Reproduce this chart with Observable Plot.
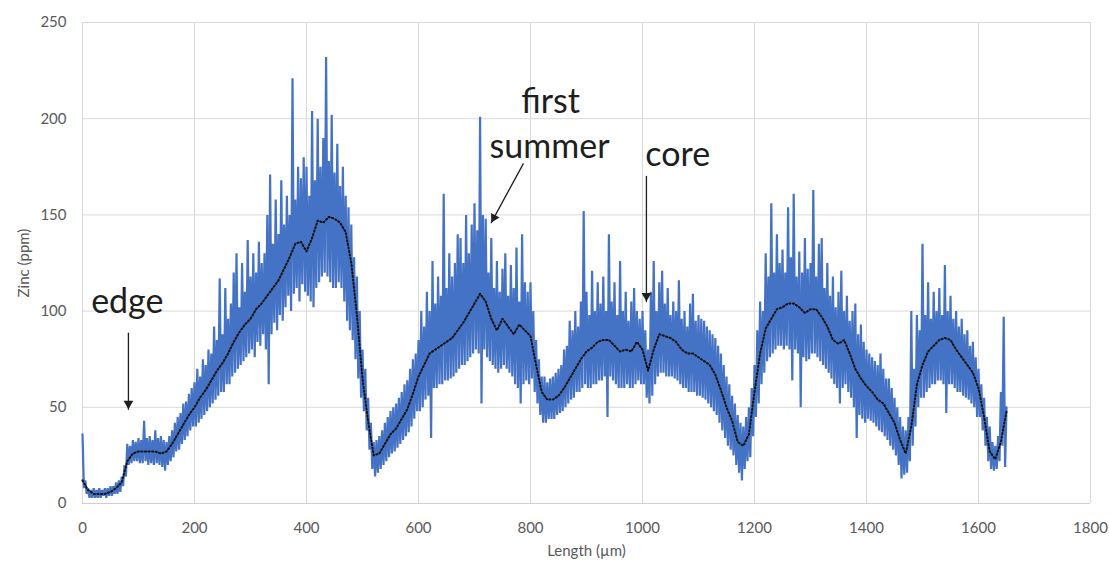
<!DOCTYPE html>
<html>
<head>
<meta charset="utf-8">
<script src="https://cdn.jsdelivr.net/npm/d3@7"></script>
<script src="https://cdn.jsdelivr.net/npm/@observablehq/plot@0.6"></script>
<style>
  html, body { margin: 0; padding: 0; background: #ffffff; }
  #chart { width: 1109px; height: 571px; }
</style>
</head>
<body>
<div id="chart"></div>
<script>
// ---- Data ----
// Raw zinc profile (ppm). The noisy signal alternates between upper readings
// (at 0, 5, 10 ... 1650 µm) and lower readings (at 2.5, 7.5 ... 1647.5 µm).
const zincStep = 5;
const zincUpper = [
  36, 12, 8, 7, 8, 7, 8, 7, 8, 8, 9, 9, 11, 12, 14, 20, 31, 30, 33, 32,
  34, 33, 43, 34, 35, 33, 38, 34, 35, 33, 32, 35, 38, 42, 45, 47, 52, 53, 57, 60,
  63, 70, 66, 75, 72, 80, 78, 92, 85, 117, 88, 112, 96, 104, 120, 130, 102, 125, 110, 137,
  118, 130, 120, 136, 125, 130, 150, 171, 135, 158, 140, 168, 145, 160, 150, 221, 158, 175, 169, 180,
  175, 160, 204, 168, 200, 175, 190, 232, 178, 202, 172, 187, 165, 175, 160, 154, 145, 128, 118, 100,
  80, 70, 55, 42, 32, 33, 35, 38, 42, 45, 48, 50, 52, 55, 58, 62, 64, 70, 75, 78,
  85, 100, 92, 110, 100, 126, 104, 118, 108, 161, 112, 130, 118, 125, 140, 138, 125, 150, 130, 145,
  156, 142, 201, 150, 148, 120, 138, 112, 126, 110, 122, 130, 108, 124, 112, 133, 105, 140, 115, 110,
  115, 100, 85, 75, 66, 66, 63, 65, 66, 68, 70, 72, 80, 82, 95, 90, 100, 92, 105, 152,
  110, 98, 121, 100, 115, 104, 118, 100, 140, 105, 115, 98, 126, 100, 110, 95, 105, 112, 100, 96,
  100, 90, 80, 110, 126, 100, 115, 121, 104, 112, 98, 105, 100, 116, 96, 100, 92, 104, 109, 95,
  98, 96, 95, 92, 90, 88, 86, 82, 78, 72, 66, 62, 56, 52, 46, 42, 40, 45, 50, 60,
  72, 90, 105, 100, 130, 118, 156, 120, 140, 125, 132, 120, 154, 128, 161, 118, 131, 120, 138, 122,
  125, 163, 118, 135, 138, 112, 125, 108, 118, 102, 110, 121, 100, 108, 95, 100, 104, 88, 93, 84,
  80, 78, 76, 74, 72, 78, 70, 65, 65, 60, 55, 50, 45, 40, 38, 45, 100, 70, 98, 90,
  135, 98, 115, 96, 110, 100, 112, 98, 124, 100, 108, 96, 100, 92, 96, 88, 90, 82, 84, 76,
  70, 62, 55, 45, 40, 32, 30, 35, 58, 97, 50
];
const zincLower = [
  8, 5, 3, 3, 3, 3, 3, 4, 3, 4, 4, 5, 5, 6, 9, 14, 20, 21, 22, 22,
  21, 21, 22, 20, 21, 20, 21, 20, 19, 17, 20, 22, 24, 27, 28, 31, 33, 35, 38, 40,
  40, 42, 44, 46, 48, 50, 52, 54, 56, 58, 58, 62, 62, 66, 68, 70, 72, 74, 76, 78,
  80, 76, 84, 82, 88, 80, 62, 88, 94, 90, 98, 95, 102, 108, 100, 109, 112, 105, 114, 110,
  108, 105, 102, 112, 115, 118, 120, 118, 115, 112, 112, 115, 112, 105, 95, 90, 85, 75, 65, 55,
  48, 38, 28, 18, 14, 16, 18, 20, 22, 24, 26, 27, 29, 31, 33, 35, 37, 40, 44, 48,
  48, 50, 54, 56, 34, 60, 60, 62, 62, 64, 64, 65, 66, 68, 70, 72, 72, 74, 76, 78,
  80, 78, 52, 80, 76, 74, 72, 70, 68, 70, 72, 70, 68, 66, 62, 60, 52, 62, 64, 62,
  65, 58, 52, 46, 42, 42, 44, 44, 44, 46, 47, 48, 50, 52, 54, 55, 58, 58, 60, 62,
  60, 60, 62, 62, 64, 64, 66, 45, 66, 64, 62, 60, 60, 60, 62, 60, 60, 62, 64, 62,
  62, 55, 52, 56, 62, 66, 68, 68, 66, 66, 66, 65, 64, 62, 60, 60, 58, 58, 58, 56,
  56, 55, 54, 52, 50, 48, 46, 42, 38, 34, 30, 28, 25, 20, 16, 12, 18, 22, 24, 35,
  45, 52, 62, 68, 74, 76, 78, 80, 82, 82, 80, 82, 80, 64, 80, 78, 50, 76, 74, 75,
  78, 78, 76, 74, 72, 70, 68, 65, 62, 60, 52, 60, 62, 58, 55, 50, 34, 46, 44, 42,
  44, 43, 42, 40, 38, 37, 35, 33, 30, 28, 25, 20, 13, 15, 16, 22, 30, 40, 50, 55,
  55, 58, 60, 62, 62, 64, 64, 62, 47, 62, 62, 60, 58, 58, 56, 55, 54, 52, 50, 45,
  45, 38, 30, 22, 18, 17, 18, 22, 30, 19
];

// Moving-average trend line (ppm), one value every 10 µm from 0 to 1650 µm
const avgStep = 10;
const movingAvg = [
  12, 7, 5, 5, 5, 6, 8, 11, 22, 26,
  27, 27, 27, 27, 26, 27, 31, 36, 41, 46,
  50, 55, 59, 64, 69, 73, 78, 84, 89, 93,
  96, 101, 104, 108, 112, 116, 122, 128, 135, 136,
  131, 138, 147, 146, 149, 148, 146, 141, 125, 98,
  65, 43, 25, 26, 31, 36, 39, 44, 49, 57,
  66, 72, 78, 80, 82, 84, 86, 90, 94, 99,
  104, 109, 105, 96, 90, 96, 92, 88, 93, 90,
  87, 72, 58, 54, 54, 56, 60, 65, 70, 75,
  79, 81, 84, 85, 85, 82, 79, 80, 79, 84,
  80, 69, 80, 88, 87, 86, 84, 80, 78, 78,
  76, 74, 72, 67, 59, 50, 43, 32, 30, 36,
  58, 78, 91, 96, 101, 102, 104, 104, 102, 99,
  101, 101, 97, 92, 85, 83, 85, 78, 70, 65,
  61, 58, 54, 52, 47, 42, 33, 26, 40, 62,
  72, 79, 82, 85, 86, 85, 80, 76, 72, 68,
  60, 45, 27, 23, 32, 48
];

const xTicks = [0, 200, 400, 600, 800, 1000, 1200, 1400, 1600, 1800];
const yTicks = [0, 50, 100, 150, 200, 250];

// Annotation labels (data coordinates: µm, ppm)
const noteText = ["edge", "first", "summer", "core"];
const noteX = [80, 836, 834, 1063];
const noteY = [99, 203, 179.5, 175.5];

// Annotation arrows: start (x1,y1) -> tip (x2,y2), data coordinates
const arrowX1 = [82, 787, 1007];
const arrowY1 = [88.5, 176.5, 170];
const arrowX2 = [82, 730, 1007];
const arrowY2 = [49, 146, 105];

// ---- Build tables ----
const rawData = [];
zincUpper.forEach((v, i) => {
  rawData.push({x: i * zincStep, y: v});
  if (i < zincLower.length) rawData.push({x: i * zincStep + zincStep / 2, y: zincLower[i]});
});
const avgData = movingAvg.map((v, i) => ({x: i * avgStep, y: v}));
const notes = noteText.map((t, i) => ({text: t, x: noteX[i], y: noteY[i]}));
const arrows = arrowX1.map((x1, i) => ({x1, y1: arrowY1[i], x2: arrowX2[i], y2: arrowY2[i]}));

const xScalePx = (1090 - 82) / 1800;
const yScalePx = (503 - 22) / 250;
const r = 3.6;
const tipOffset = 2 * Math.sqrt((Math.PI * r * r) / (Math.sqrt(3) * 3));

const headMarks = arrows.map(a => {
  const dxp = (a.x2 - a.x1) * xScalePx;
  const dyp = -(a.y2 - a.y1) * yScalePx;
  const len = Math.hypot(dxp, dyp);
  const ux = dxp / len, uy = dyp / len;
  const angle = Math.atan2(ux, -uy) * 180 / Math.PI;
  return Plot.dot([a], {
    x: "x2", y: "y2", symbol: "triangle", r, fill: "#1e1e1e", stroke: "none",
    rotate: angle, dx: -ux * tipOffset, dy: -uy * tipOffset
  });
});

const chart = Plot.plot({
  width: 1109,
  height: 571,
  marginLeft: 82,
  marginRight: 19,
  marginTop: 22,
  marginBottom: 68,
  style: {fontFamily: "Lato, 'Open Sans', sans-serif", fontSize: "15px", color: "#595959", background: "#ffffff", overflow: "visible"},
  x: {domain: [0, 1800]},
  y: {domain: [0, 250]},
  marks: [
    Plot.gridX(xTicks, {stroke: "#d9d9d9", strokeOpacity: 1, strokeWidth: 1}),
    Plot.gridY(yTicks, {stroke: "#d9d9d9", strokeOpacity: 1, strokeWidth: 1}),
    Plot.ruleY([0], {stroke: "#cfcfcf", strokeWidth: 1.2}),
    Plot.axisX(xTicks, {tickSize: 0, tickPadding: 19, tickFormat: d => String(d), label: "Length (µm)", labelAnchor: "center", labelOffset: 52, labelArrow: "none"}),
    Plot.axisY(yTicks, {tickSize: 0, tickPadding: 16, tickFormat: d => String(d), label: "Zinc (ppm)", labelAnchor: "center", labelOffset: 64, labelArrow: "none"}),
    Plot.line(rawData, {x: "x", y: "y", stroke: "#4472C4", strokeWidth: 2.2, strokeLinejoin: "bevel"}),
    Plot.line(avgData, {x: "x", y: "y", stroke: "#101010", strokeWidth: 2, strokeDasharray: "1.2,2.4"}),
    Plot.text(notes, {x: "x", y: "y", text: "text", lineAnchor: "bottom", fontSize: 34, fill: "#1e1e1e", fontFamily: "Lato, sans-serif"}),
    Plot.arrow(arrows, {x1: "x1", y1: "y1", x2: "x2", y2: "y2", headLength: 0, stroke: "#1e1e1e", strokeWidth: 1.3}),
    ...headMarks
  ]
});

document.getElementById("chart").appendChild(chart);
</script>
</body>
</html>
